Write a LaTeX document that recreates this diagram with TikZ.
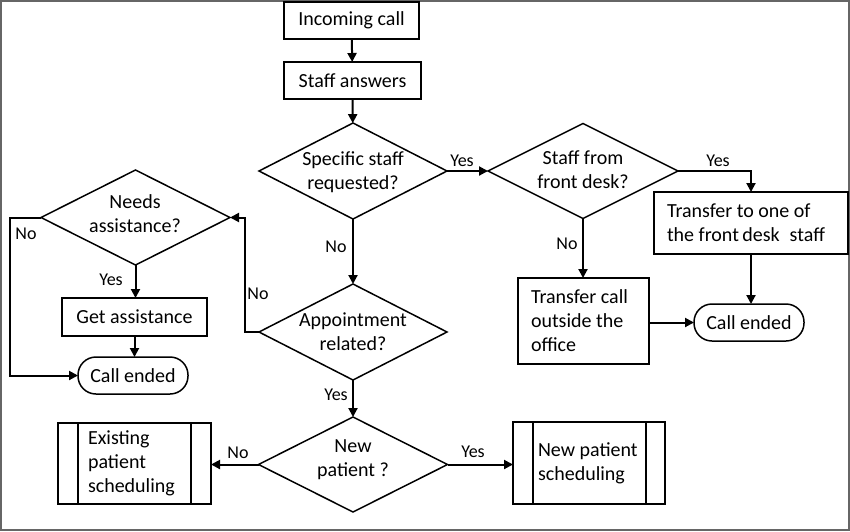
\documentclass[tikz,border=0pt]{standalone}
\usepackage{fontspec}
\setmainfont{Carlito}
\usetikzlibrary{shapes.geometric,arrows.meta}
\begin{document}
\begin{tikzpicture}[x=1pt,y=-1pt,
  every node/.style={font=\fontsize{20}{24}\selectfont, outer sep=0pt},
  box/.style={draw, line width=1.5pt, rectangle, inner sep=0pt, align=center},
  lbox/.style={draw, line width=1.5pt, rectangle, inner ysep=0pt, align=flush left},
  term/.style={draw, line width=1.5pt, rectangle, rounded corners=18pt, inner sep=0pt, minimum width=110pt, minimum height=37pt},
  dia/.style={draw, line width=1.5pt, diamond, inner sep=0pt},
  txt/.style={align=center, inner sep=0pt},
  lab/.style={font=\fontsize{18}{22}\selectfont, inner sep=0pt},
  arr/.style={line width=2pt, -{Triangle[length=9pt,width=9pt]}},
  ln/.style={line width=2pt}
]
\useasboundingbox (0,0) rectangle (850,531);
\draw[gray!80!black, line width=2pt] (1,1) rectangle (849,530);

% top column
\node[box, minimum width=135pt, minimum height=37pt] (inc) at (351.5,20.5) {Incoming call};
\node[box, minimum width=137pt, minimum height=37pt] (sa) at (352.5,80.5) {Staff answers};
\node[dia, minimum width=188pt, minimum height=96pt] (sp) at (353,171) {};
\node[txt] at (353,172) {Specific staff\\requested?};
\node[dia, minimum width=190pt, minimum height=95pt] (fd) at (583,171) {};
\node[txt] at (583,170) {Staff from\\front desk?};
\node[lbox, inner xsep=13pt, text width=168pt, minimum height=62pt] (tf) at (751,223) {Transfer to one of\\the front\,desk\enspace staff};
\node[term] (ce2) at (749,322.5) {Call ended};
\node[lbox, inner xsep=13pt, text width=105pt, minimum height=86pt] (tc) at (583.5,321) {Transfer call\\outside the\\office};
\node[dia, minimum width=188pt, minimum height=96pt] (ap) at (353,332) {};
\node[txt] at (353,332) {Appointment\\related?};
\node[dia, minimum width=189pt, minimum height=95pt] (na) at (135.5,217.5) {};
\node[txt] at (135,214) {Needs\\assistance?};
\node[box, minimum width=145pt, minimum height=38pt] (ga) at (134.5,317) {Get assistance};
\node[term] (ce1) at (133,375.5) {Call ended};
\node[dia, minimum width=189pt, minimum height=95pt] (np) at (353,464.5) {};
\node[txt] at (353,460) {New\\patient ?};
\node[lbox, inner xsep=30pt, text width=93pt, minimum height=81pt] (ex) at (134.5,463.5) {Existing\\patient\\scheduling};
\draw[line width=1.5pt] ([xshift=20pt]ex.north west) -- ([xshift=20pt]ex.south west);
\draw[line width=1.5pt] ([xshift=-20pt]ex.north east) -- ([xshift=-20pt]ex.south east);
\node[lbox, inner xsep=25pt, text width=102pt, minimum height=82pt] (ns) at (589,463) {New patient\\scheduling};
\draw[line width=1.5pt] ([xshift=20pt]ns.north west) -- ([xshift=20pt]ns.south west);
\draw[line width=1.5pt] ([xshift=-19pt]ns.north east) -- ([xshift=-19pt]ns.south east);

% connectors
\draw[arr] (inc) -- (sa);
\draw[arr] (sa) -- (sp);
\draw[arr] (sp.east) -- (fd.west);
\draw[arr] (fd.east) -| (tf.north);
\draw[arr] (tf.south) -- (tf.south |- ce2.north);
\draw[arr] (fd.south) -- (fd.south |- tc.north);
\draw[arr] (tc.east |- ce2.west) -- (ce2.west);
\draw[arr] (sp.south) -- (ap.north);
\draw[arr] (ap.west) -- ++(-14,0) |- (na.east);
\draw[arr] (na.west) -- ++(-31,0) |- (ce1.west);
\draw[arr] (na.south) -- (na.south |- ga.north);
\draw[arr] (ga.south) -- (ga.south |- ce1.north);
\draw[arr] (ap.south) -- (np.north);
\draw[arr] (np.west) -- (np.west -| ex.east);
\draw[arr] (np.east) -- (np.east -| ns.west);

% labels
\node[lab] at (462,161) {Yes};
\node[lab] at (718,161) {Yes};
\node[lab] at (567,244) {No};
\node[lab] at (336,247) {No};
\node[lab] at (26,234) {No};
\node[lab] at (111,280) {Yes};
\node[lab] at (258,294) {No};
\node[lab] at (336,395) {Yes};
\node[lab] at (238,453) {No};
\node[lab] at (473,452) {Yes};
\end{tikzpicture}
\end{document}
